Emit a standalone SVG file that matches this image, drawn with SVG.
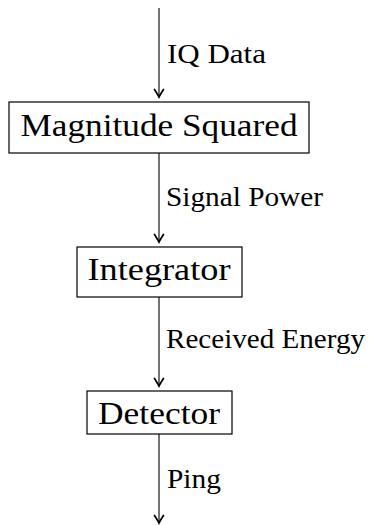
<svg xmlns="http://www.w3.org/2000/svg" width="369" height="525" viewBox="0 0 369 525">
  <style>
    .box { fill: #fff; stroke: #000; stroke-width: 1.2; }
    .node-text { font-family: "Liberation Serif", "DejaVu Serif", serif; font-size: 32px; fill: #000; text-anchor: middle; }
    .label { font-family: "Liberation Serif", "DejaVu Serif", serif; font-size: 27px; fill: #000; }
    .edge { stroke: #000; stroke-width: 1.1; fill: none; marker-end: url(#arrow); }
  </style>
  <defs>
    <marker id="arrow" markerUnits="userSpaceOnUse" viewBox="-9 -6 10 12" refX="0" refY="0" markerWidth="10" markerHeight="12" orient="auto" overflow="visible">
      <path d="M -7.5 -4.5 Q -2 -1 0 0 Q -2 1 -7.5 4.5" fill="none" stroke="#000" stroke-width="1.7" stroke-linecap="round"/>
    </marker>
  </defs>
  <g id="connectors">
    <line class="edge" x1="159" y1="8" x2="159" y2="97"/>
    <line class="edge" x1="159" y1="153" x2="159" y2="242"/>
    <line class="edge" x1="159" y1="297" x2="159" y2="386"/>
    <line class="edge" x1="159" y1="434" x2="159" y2="523"/>
    <text class="label" x="167" y="63" textLength="99" lengthAdjust="spacingAndGlyphs">IQ Data</text>
    <text class="label" x="166" y="206" textLength="157" lengthAdjust="spacingAndGlyphs">Signal Power</text>
    <text class="label" x="166" y="348" textLength="199" lengthAdjust="spacingAndGlyphs">Received Energy</text>
    <text class="label" x="167" y="488" textLength="54" lengthAdjust="spacingAndGlyphs">Ping</text>
  </g>
  <g id="magnitude-squared">
    <rect class="box" x="9" y="102" width="300" height="51"/>
    <text class="node-text" x="159" y="136" textLength="277" lengthAdjust="spacingAndGlyphs">Magnitude Squared</text>
  </g>
  <g id="integrator">
    <rect class="box" x="77" y="247" width="165" height="50"/>
    <text class="node-text" x="159" y="280" textLength="143" lengthAdjust="spacingAndGlyphs">Integrator</text>
  </g>
  <g id="detector">
    <rect class="box" x="87" y="391" width="145" height="43"/>
    <text class="node-text" x="159" y="423.5" textLength="122" lengthAdjust="spacingAndGlyphs">Detector</text>
  </g>
</svg>
